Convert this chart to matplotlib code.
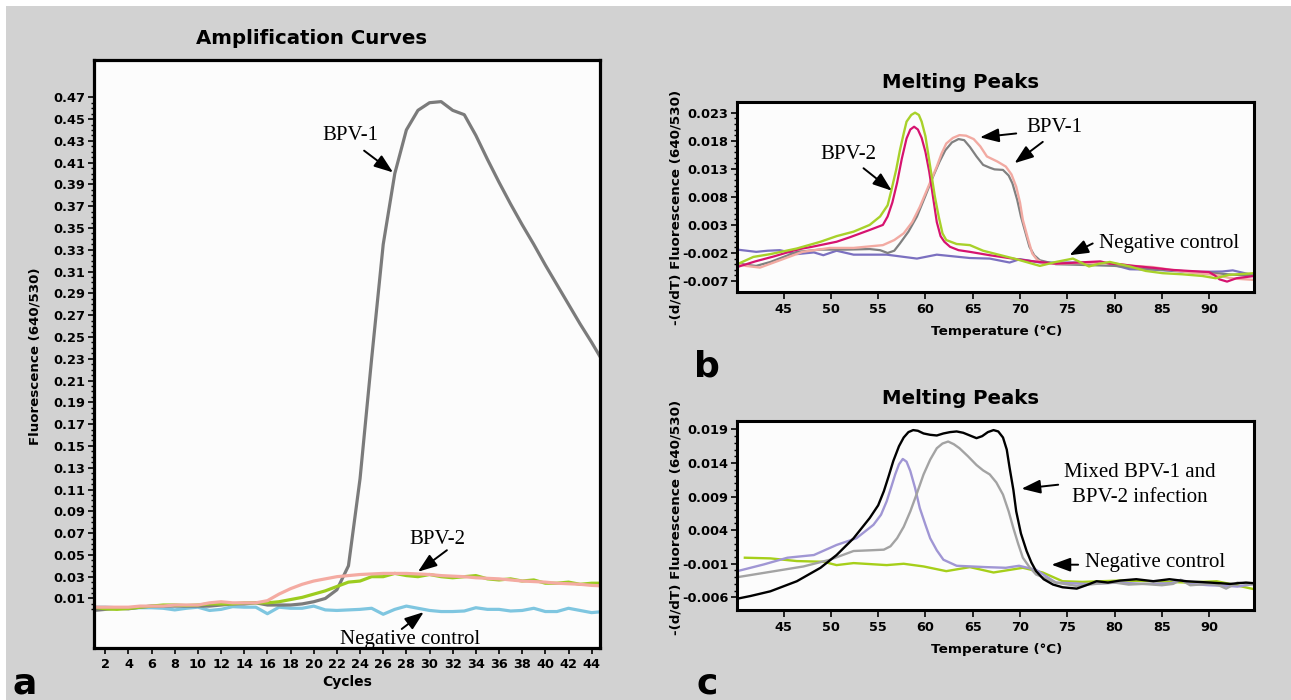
import matplotlib
matplotlib.use("Agg")
import matplotlib.pyplot as plt
from matplotlib.patches import Rectangle
from matplotlib.ticker import FixedLocator, FormatStrFormatter

W, H = 1291, 700

# ---------------- panel a: amplification curves ----------------
cycles = list(range(1, 46))
amp_bpv1 = [-0.001, 0.0, 0.001, 0.0005, 0.002, 0.003, 0.003, 0.003, 0.003, 0.003,
            0.003, 0.004, 0.005, 0.005, 0.006, 0.004, 0.004, 0.004, 0.005, 0.007,
            0.010, 0.018, 0.040, 0.120, 0.230, 0.335, 0.400, 0.440, 0.458, 0.465,
            0.466, 0.458, 0.454, 0.435, 0.413, 0.392, 0.372, 0.353, 0.335, 0.316,
            0.298, 0.280, 0.262, 0.245, 0.227]
amp_bpv2_pink = [0.002, 0.002, 0.002, 0.002, 0.003, 0.003, 0.003, 0.004, 0.004, 0.004,
                 0.006, 0.007, 0.006, 0.006, 0.006, 0.008, 0.014, 0.019, 0.023, 0.026,
                 0.028, 0.030, 0.031, 0.032, 0.0325, 0.033, 0.033, 0.033, 0.0325, 0.032,
                 0.031, 0.0305, 0.030, 0.029, 0.0285, 0.028, 0.027, 0.026, 0.0255, 0.025,
                 0.024, 0.0235, 0.023, 0.022, 0.0215]
amp_bpv2_green = [0.002, 0.0005, 0.0, 0.0008, 0.002, 0.003, 0.004, 0.004, 0.0035, 0.004,
                  0.005, 0.005, 0.005, 0.006, 0.006, 0.006, 0.007, 0.009, 0.011, 0.014,
                  0.017, 0.021, 0.025, 0.026, 0.030, 0.030, 0.033, 0.031, 0.030, 0.032,
                  0.030, 0.029, 0.030, 0.031, 0.028, 0.027, 0.028, 0.026, 0.027, 0.024,
                  0.024, 0.025, 0.023, 0.024, 0.024]
amp_negative = [0.002, 0.002, 0.0015, 0.001, 0.0015, 0.0015, 0.001, -0.0005, 0.001, 0.002,
                -0.001, 0.0, 0.0025, 0.002, 0.002, -0.004, 0.002, 0.001, 0.001, 0.003,
                -0.0005, -0.001, -0.0005, 0.0, 0.001, -0.0045, 0.0, 0.003, 0.001, -0.001,
                -0.002, -0.002, -0.0015, 0.0015, 0.0, 0.0, -0.0015, -0.001, 0.001, -0.002,
                -0.002, 0.001, -0.001, -0.003, -0.002]
amp_yticks = [round(0.01 + 0.02 * i, 2) for i in range(24)]
amp_xticks = list(range(2, 46, 2))

# ---------------- panel b: melting peaks ----------------
b_green_t = [40.1, 41.8, 43.6, 46.4, 48.9, 50.6, 52.4, 54.1, 55.2, 56.0, 56.4, 56.9, 57.3,
             57.7, 58.0, 58.5, 58.9, 59.3, 59.6, 60.0, 60.5, 61.0, 61.4, 61.8, 62.2, 63.3,
             64.7, 66.1, 67.5, 69.6, 72.1, 73.8, 75.6, 77.3, 78.4, 79.5, 81.6, 83.3, 85.1,
             87.2, 89.3, 90.7, 92.1, 94.8]
b_green_v = [-0.0040, -0.0027, -0.0022, -0.0012, 0.0000, 0.0010, 0.0018, 0.0030, 0.0045,
             0.0065, 0.0092, 0.0128, 0.0163, 0.0193, 0.0214, 0.0226, 0.0230, 0.0226, 0.0214,
             0.0188, 0.0134, 0.0080, 0.0045, 0.0015, 0.0003, -0.0004, -0.0006, -0.0016,
             -0.0022, -0.0031, -0.0043, -0.0036, -0.0030, -0.0044, -0.0039, -0.0036, -0.0044,
             -0.0052, -0.0056, -0.0058, -0.0061, -0.0065, -0.0059, -0.0056]
b_magenta_t = [40.1, 42.0, 44.0, 46.0, 47.0, 48.0, 50.6, 52.0, 54.1, 55.5, 56.0, 56.5, 57.0,
               57.5, 58.0, 58.4, 58.8, 59.2, 59.6, 60.0, 60.4, 60.8, 61.2, 61.6, 62.0, 62.6,
               63.5, 64.7, 66.8, 68.0, 70.0, 72.0, 73.8, 75.0, 77.3, 78.5, 79.5, 80.5, 82.0,
               84.4, 86.0, 87.9, 90.0, 90.6, 91.1, 91.9, 92.9, 94.8]
b_magenta_v = [-0.0045, -0.0035, -0.0026, -0.0016, -0.0012, -0.0009, 0.0000, 0.0008, 0.0021,
               0.0030, 0.0045, 0.0070, 0.0105, 0.0148, 0.0184, 0.0200, 0.0205, 0.0200, 0.0185,
               0.0160, 0.0125, 0.0080, 0.0035, 0.0010, 0.0000, -0.0009, -0.0015, -0.0018,
               -0.0024, -0.0027, -0.0032, -0.0036, -0.0039, -0.0038, -0.0036, -0.0035, -0.0039,
               -0.0040, -0.0043, -0.0047, -0.0050, -0.0052, -0.0054, -0.0060, -0.0067, -0.0071,
               -0.0065, -0.0061]
b_gray_t = [40.1, 41.0, 42.1, 43.6, 45.0, 46.4, 48.9, 51.7, 54.1, 55.2, 56.0, 56.7, 57.3,
            58.2, 59.1, 60.0, 60.8, 61.5, 62.1, 62.8, 63.5, 64.1, 64.7, 65.4, 66.1, 66.8,
            67.3, 68.2, 68.8, 69.2, 69.7, 70.1, 70.6, 71.0, 71.5, 72.1, 73.8, 76.0, 78.0,
            80.0, 82.0, 85.0, 88.0, 90.0, 92.0, 94.8]
b_gray_v = [-0.0038, -0.0041, -0.0043, -0.0036, -0.0027, -0.0018, -0.0014, -0.0014, -0.0013,
            -0.0015, -0.0020, -0.0016, -0.0003, 0.0018, 0.0045, 0.0082, 0.0116, 0.0143, 0.0163,
            0.0177, 0.0183, 0.0181, 0.0169, 0.0152, 0.0137, 0.0132, 0.0129, 0.0128, 0.0118,
            0.0104, 0.0075, 0.0045, 0.0015, -0.0009, -0.0024, -0.0033, -0.0040, -0.0041,
            -0.0042, -0.0043, -0.0046, -0.0050, -0.0053, -0.0055, -0.0058, -0.0061]
b_pink_t = [40.1, 41.0, 42.5, 44.6, 47.0, 49.9, 52.4, 55.5, 56.7, 57.7, 58.6, 59.4, 60.3,
            61.2, 61.7, 62.2, 62.9, 63.6, 64.3, 65.1, 65.8, 66.5, 67.6, 68.5, 69.1, 69.6,
            70.0, 70.3, 70.8, 71.3, 71.8, 72.4, 74.0, 76.0, 78.0, 80.0, 82.0, 84.0, 86.0,
            88.0, 90.0, 91.0, 92.0, 93.0, 94.8]
b_pink_v = [-0.0039, -0.0043, -0.0046, -0.0033, -0.0018, -0.0011, -0.0011, -0.0006, 0.0003,
            0.0015, 0.0035, 0.0062, 0.0098, 0.0134, 0.0157, 0.0175, 0.0185, 0.0190, 0.0189,
            0.0183, 0.0170, 0.0152, 0.0143, 0.0134, 0.0120, 0.0098, 0.0070, 0.0039, 0.0008,
            -0.0021, -0.0032, -0.0038, -0.0039, -0.0038, -0.0038, -0.0039, -0.0043, -0.0045,
            -0.0050, -0.0055, -0.0058, -0.0060, -0.0064, -0.0066, -0.0068]
b_neg_t = [40.1, 42.1, 43.3, 44.6, 46.4, 48.2, 49.2, 50.6, 52.4, 55.9, 59.1, 61.2, 64.7,
           66.8, 68.9, 70.0, 72.1, 75.6, 79.1, 80.5, 81.6, 84.4, 87.9, 91.4, 92.5, 94.8]
b_neg_v = [-0.0014, -0.0018, -0.0016, -0.0015, -0.0022, -0.0019, -0.0024, -0.0016, -0.0023,
           -0.0023, -0.0030, -0.0023, -0.0029, -0.0030, -0.0037, -0.0031, -0.0037, -0.0037,
           -0.0038, -0.0044, -0.0049, -0.0050, -0.0054, -0.0053, -0.0051, -0.0060]
b_yticks = [-0.007, -0.002, 0.003, 0.008, 0.013, 0.018, 0.023]

# ---------------- panel c: mixed infection ----------------
c_mixed_t = [40.1, 41.5, 43.6, 46.4, 48.9, 50.6, 52.4, 54.1, 55.0, 55.6, 56.1, 56.6, 57.2,
             57.7, 58.2, 58.7, 59.2, 59.8, 60.5, 61.2, 61.9, 62.6, 63.3, 64.0, 64.7, 65.4,
             66.0, 66.6, 67.2, 67.7, 68.2, 68.6, 68.9, 69.3, 69.6, 70.1, 70.7, 71.2, 71.7,
             72.5, 73.5, 74.5, 76.0, 77.0, 78.1, 79.3, 80.6, 82.3, 84.1, 85.8, 87.6, 90.1,
             92.2, 93.9, 94.8]
c_mixed_v = [-0.0062, -0.0058, -0.0051, -0.0036, -0.0016, 0.0003, 0.0028, 0.0058, 0.0077,
             0.0098, 0.0120, 0.0143, 0.0165, 0.0178, 0.0186, 0.0189, 0.0188, 0.0184, 0.0182,
             0.0181, 0.0184, 0.0186, 0.0187, 0.0185, 0.0181, 0.0177, 0.0180, 0.0186, 0.0189,
             0.0187, 0.0178, 0.0160, 0.0133, 0.0100, 0.0068, 0.0035, 0.0009, -0.0008, -0.0021,
             -0.0033, -0.0041, -0.0045, -0.0047, -0.0042, -0.0036, -0.0038, -0.0035, -0.0033,
             -0.0036, -0.0033, -0.0036, -0.0038, -0.0040, -0.0038, -0.0039]
c_bpv1_t = [40.1, 43.6, 47.1, 49.9, 52.4, 54.1, 55.6, 56.3, 57.0, 57.7, 58.4, 59.1, 59.8,
            60.5, 61.2, 61.8, 62.4, 63.0, 63.6, 64.5, 65.4, 66.1, 66.8, 67.5, 68.2, 68.8,
            69.3, 69.8, 70.3, 71.0, 71.7, 73.8, 76.0, 78.0, 80.0, 81.5, 83.0, 85.0, 86.2,
            87.0, 88.0, 90.0, 91.0, 91.8, 93.0, 94.8]
c_bpv1_v = [-0.0030, -0.0022, -0.0014, -0.0004, 0.0009, 0.0010, 0.0011, 0.0016, 0.0028,
            0.0045, 0.0068, 0.0095, 0.0123, 0.0145, 0.0162, 0.0169, 0.0172, 0.0168, 0.0162,
            0.0150, 0.0137, 0.0129, 0.0123, 0.0111, 0.0093, 0.0068, 0.0043, 0.0020, -0.0001,
            -0.0015, -0.0026, -0.0038, -0.0043, -0.0040, -0.0038, -0.0041, -0.0040, -0.0042,
            -0.0040, -0.0034, -0.0042, -0.0040, -0.0042, -0.0047, -0.0038, -0.0041]
c_bpv2_t = [40.1, 42.9, 45.4, 48.2, 50.6, 52.7, 54.5, 55.3, 55.9, 56.4, 56.8, 57.2, 57.6,
            58.0, 58.4, 58.9, 59.4, 60.0, 60.5, 61.2, 61.9, 63.3, 66.4, 68.5, 69.9, 71.7,
            73.8, 77.0, 80.6, 83.0, 86.0, 87.0, 88.0, 90.0, 92.0, 93.0, 94.8]
c_bpv2_v = [-0.0021, -0.0011, -0.0001, 0.0003, 0.0018, 0.0028, 0.0048, 0.0063, 0.0083,
            0.0105, 0.0123, 0.0138, 0.0146, 0.0142, 0.0128, 0.0103, 0.0073, 0.0048, 0.0028,
            0.0010, -0.0004, -0.0013, -0.0015, -0.0016, -0.0013, -0.0019, -0.0038, -0.0040,
            -0.0038, -0.0040, -0.0039, -0.0034, -0.0040, -0.0042, -0.0043, -0.0044, -0.0040]
c_neg_t = [40.9, 43.6, 46.4, 49.2, 50.6, 52.4, 55.9, 57.7, 59.8, 62.2, 64.7, 67.2, 70.3,
           72.4, 74.5, 76.6, 80.6, 84.1, 87.6, 90.8, 92.2, 94.8]
c_neg_v = [-0.0001, -0.0002, -0.0006, -0.0007, -0.0012, -0.0009, -0.0012, -0.0010, -0.0014,
           -0.0021, -0.0015, -0.0023, -0.0016, -0.0023, -0.0036, -0.0037, -0.0035, -0.0036,
           -0.0038, -0.0036, -0.0040, -0.0048]
c_yticks = [-0.006, -0.001, 0.004, 0.009, 0.014, 0.019]
temp_xticks = list(range(45, 95, 5))

BG = "#d2d2d2"
SANS = "DejaVu Sans"
SERIF = "Liberation Serif"
plt.rcParams["font.family"] = SANS


def fx(x):
    return x / W


def fy(y):
    return 1 - y / H


def minor_between(lo, hi, step):
    n = int(round((hi - lo) / step))
    return [lo + i * step for i in range(n + 1)]


def style_axes(ax, spine_lw, xlen):
    ax.set_facecolor("#fcfcfc")
    for s in ax.spines.values():
        s.set_linewidth(spine_lw)
        s.set_color("black")
    ax.tick_params(axis="both", which="major", direction="out", width=1.2,
                   labelsize=9.3, colors="black")
    ax.tick_params(axis="x", length=xlen, pad=3)
    ax.tick_params(axis="y", which="major", length=4.3, pad=2)
    ax.tick_params(axis="y", which="minor", direction="out", length=2.5, width=1.0)
    for lab in ax.get_xticklabels() + ax.get_yticklabels():
        lab.set_fontweight("bold")


def arrow(ax, tail, head):
    ax.annotate("", xy=head, xytext=tail,
                arrowprops=dict(arrowstyle="-|>,head_length=1.15,head_width=0.42",
                                mutation_scale=10, color="black", lw=1.4,
                                shrinkA=0, shrinkB=0))


def note(ax, x, y, s, ha="center", **kw):
    ax.text(x, y, s, family=SERIF, fontsize=15, ha=ha, va="center", **kw)


fig = plt.figure(figsize=(W / 100, H / 100), dpi=100, facecolor="white")
fig.patches.append(Rectangle((fx(6), 0), 1, fy(6), transform=fig.transFigure,
                             facecolor=BG, edgecolor="none", zorder=-10))

# ---- panel a ----
axa = fig.add_axes([fx(93.7), fy(647.5), fx(600 - 93.7), (647.5 - 60) / H])
axa.plot(cycles, amp_negative, color="#7fc6e0", lw=2.3)
axa.plot(cycles, amp_bpv1, color="#7b7b7b", lw=2.3)
axa.plot(cycles, amp_bpv2_green, color="#9ccc1f", lw=2.3)
axa.plot(cycles, amp_bpv2_pink, color="#f4aba2", lw=2.3)
axa.set_xlim(1.0, 44.72)
axa.set_ylim(-0.035, 0.5042)
axa.set_xticks(amp_xticks)
axa.set_yticks(amp_yticks)
axa.yaxis.set_major_formatter(FormatStrFormatter("%.2f"))
axa.yaxis.set_minor_locator(FixedLocator(minor_between(0.0, 0.47, 0.005)))
style_axes(axa, 2.3, 4.3)

note(axa, 23.2, 0.435, "BPV-1")
arrow(axa, (24.35, 0.421), (26.85, 0.401))
note(axa, 30.64, 0.0644, "BPV-2")
arrow(axa, (31.5, 0.0543), (29.0, 0.0345))
note(axa, 28.3, -0.0273, "Negative control")
arrow(axa, (27.6, -0.018), (29.5, -0.0025))

fig.text(fx(312), fy(38), "Amplification Curves", fontsize=14.2, fontweight="bold",
         ha="center", va="center")
fig.text(fx(34.7), fy(356), "Fluorescence (640/530)", fontsize=9.6, fontweight="bold",
         rotation=90, ha="center", va="center")
fig.text(fx(347), fy(682), "Cycles", fontsize=10, fontweight="bold",
         ha="center", va="center")
fig.text(fx(25), fy(684), "a", fontsize=26, fontweight="heavy", ha="center", va="center")

# ---- panel b ----
axb = fig.add_axes([fx(737.3), fy(291.7), fx(1254 - 737.3), (291.7 - 102.3) / H])
axb.plot(b_neg_t, b_neg_v, color="#7b70c0", lw=1.6)
axb.plot(b_gray_t, b_gray_v, color="#808080", lw=1.6)
axb.plot(b_pink_t, b_pink_v, color="#f2aaa2", lw=1.7)
axb.plot(b_magenta_t, b_magenta_v, color="#d6136f", lw=1.6)
axb.plot(b_green_t, b_green_v, color="#a8d12a", lw=1.7)
axb.set_xlim(40.1, 94.75)
axb.set_ylim(-0.0089, 0.02485)
axb.set_yticks(b_yticks)
axb.yaxis.set_minor_locator(FixedLocator(minor_between(-0.007, 0.023, 0.001)))

note(axb, 51.86, 0.01546, "BPV-2")
arrow(axb, (53.45, 0.0131), (56.44, 0.0091))
note(axb, 73.65, 0.0204, "BPV-1")
arrow(axb, (69.6, 0.0193), (65.76, 0.0186))
arrow(axb, (72.41, 0.0178), (69.42, 0.0140))
note(axb, 78.4, -0.0003, "Negative control", ha="left")
arrow(axb, (77.69, -0.0003), (75.23, -0.0024))

fig.text(fx(961), fy(83), "Melting Peaks", fontsize=14.2, fontweight="bold",
         ha="center", va="center")
fig.text(fx(675.5), fy(207.5), "-(d/dT) Fluorescence (640/530)", fontsize=9.7,
         fontweight="bold", rotation=90, ha="center", va="center")
fig.text(fx(997), fy(331.7), "Temperature (\u00b0C)", fontsize=9.7, fontweight="bold",
         ha="center", va="center")
fig.text(fx(707), fy(366), "b", fontsize=26, fontweight="heavy", ha="center", va="center")

# ---- panel c ----
axc = fig.add_axes([fx(737.3), fy(609.7), fx(1254 - 737.3), (609.7 - 420.7) / H])
axc.plot(c_neg_t, c_neg_v, color="#a6cf1a", lw=1.7)
axc.plot(c_bpv2_t, c_bpv2_v, color="#a096d4", lw=1.7)
axc.plot(c_bpv1_t, c_bpv1_v, color="#a3a3a3", lw=1.7)
axc.plot(c_mixed_t, c_mixed_v, color="black", lw=1.7)
axc.set_xlim(40.1, 94.75)
axc.set_ylim(-0.00784, 0.0203)
axc.set_yticks(c_yticks)
axc.yaxis.set_minor_locator(FixedLocator(minor_between(-0.006, 0.019, 0.001)))

note(axc, 82.66, 0.01077, "Mixed BPV-1 and\nBPV-2 infection", linespacing=1.45)
arrow(axc, (74.04, 0.01077), (70.16, 0.01017))
note(axc, 76.85, -0.00074, "Negative control", ha="left")
arrow(axc, (76.15, -0.00114), (73.33, -0.00114))

fig.text(fx(961), fy(398), "Melting Peaks", fontsize=14.2, fontweight="bold",
         ha="center", va="center")
fig.text(fx(675.5), fy(517.5), "-(d/dT) Fluorescence (640/530)", fontsize=9.7,
         fontweight="bold", rotation=90, ha="center", va="center")
fig.text(fx(997), fy(650), "Temperature (\u00b0C)", fontsize=9.7, fontweight="bold",
         ha="center", va="center")
fig.text(fx(707), fy(684), "c", fontsize=26, fontweight="heavy", ha="center", va="center")

for ax in (axb, axc):
    ax.set_xticks(temp_xticks)
    ax.yaxis.set_major_formatter(FormatStrFormatter("%.3f"))
    style_axes(ax, 2.2, 5)

fig.savefig("out.png", dpi=100, facecolor=fig.get_facecolor())
